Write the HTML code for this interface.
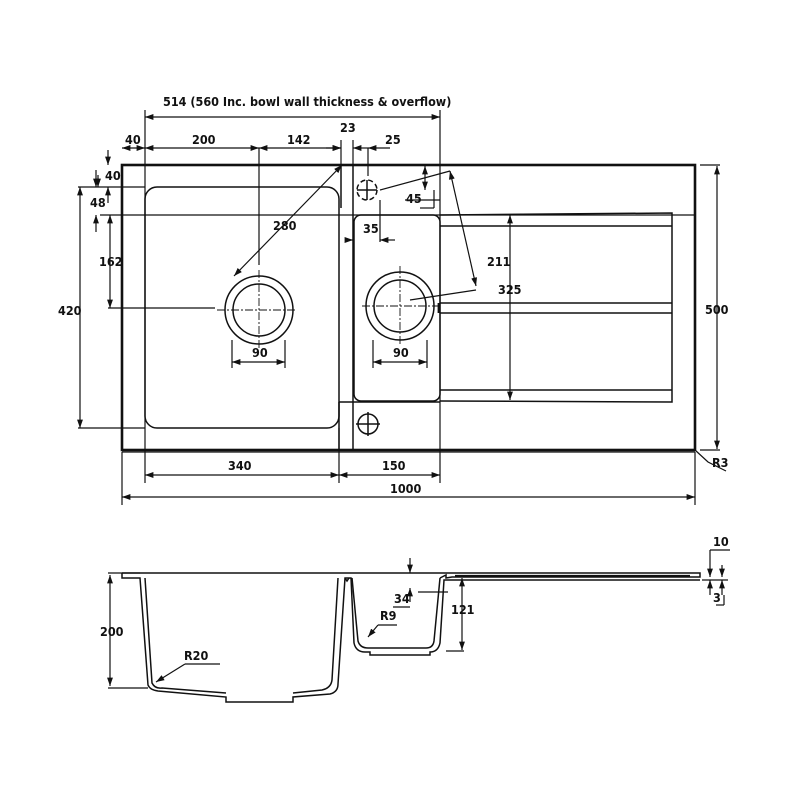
<!DOCTYPE html>
<html><head><meta charset="utf-8">
<style>
html,body{margin:0;padding:0;background:#fff;}
svg{display:block}
text{font-family:"DejaVu Sans Condensed","Liberation Sans",sans-serif;font-weight:bold;font-size:12.5px;fill:#111}
</style></head>
<body>
<svg width="800" height="800" viewBox="0 0 800 800" xmlns="http://www.w3.org/2000/svg">
<defs>
<marker id="a" viewBox="0 0 10 10" refX="10" refY="5" markerWidth="7" markerHeight="7" orient="auto-start-reverse"><path d="M0,1.5 L10,5 L0,8.5 z" fill="#111"/></marker>
</defs>
<g stroke="#111" fill="none" stroke-width="1.5">
<rect x="122" y="165" width="573" height="285" stroke-width="2.6"/>
<line x1="122" y1="452" x2="695" y2="452" stroke-width="1.2"/>
<rect x="145" y="187" width="194" height="241" rx="12"/>
<line x1="341" y1="165" x2="341" y2="208"/>
<line x1="353" y1="165" x2="353" y2="450"/>
<line x1="339" y1="402" x2="339" y2="450"/>
<line x1="339" y1="402" x2="440" y2="402"/>
<rect x="354" y="215" width="86" height="186" rx="7"/>
<line x1="100" y1="215" x2="695" y2="215" stroke-width="1.2"/>
<path d="M440,215 L672,213 L672,402 L440,401"/>
<line x1="440" y1="226" x2="672" y2="226"/>
<line x1="440" y1="303" x2="672" y2="303"/>
<line x1="440" y1="313" x2="672" y2="313"/>
<line x1="440" y1="390" x2="672" y2="390"/>
<line x1="439" y1="303" x2="439" y2="313" stroke-width="2.8"/>
<circle cx="259" cy="310" r="34"/><circle cx="259" cy="310" r="26"/>
<circle cx="400" cy="306" r="34"/><circle cx="400" cy="306" r="26"/>
<g stroke-width="0.9" stroke-dasharray="8,2,2,2">
<line x1="217" y1="310" x2="296" y2="310"/><line x1="259" y1="270" x2="259" y2="348"/>
<line x1="362" y1="306" x2="440" y2="306"/><line x1="400" y1="266" x2="400" y2="344"/>
</g>
<circle cx="367" cy="190" r="10" stroke-dasharray="5,3"/>
<line x1="357" y1="190" x2="377" y2="190"/><line x1="367" y1="180" x2="367" y2="200"/>
<circle cx="368" cy="424" r="10"/>
<line x1="356" y1="424" x2="380" y2="424"/><line x1="368" y1="412" x2="368" y2="436"/>
<g stroke-width="1.2">
<line x1="145" y1="110" x2="145" y2="483"/>
<line x1="440" y1="110" x2="440" y2="483"/>
<line x1="339" y1="428" x2="339" y2="483"/>
<line x1="122" y1="452" x2="122" y2="505"/>
<line x1="695" y1="452" x2="695" y2="505"/>
<line x1="259" y1="148" x2="259" y2="265"/>
<line x1="341" y1="140" x2="341" y2="165"/>
<line x1="353" y1="140" x2="353" y2="165"/>
<line x1="368" y1="148" x2="368" y2="176"/>
<line x1="78" y1="187" x2="145" y2="187"/>
<line x1="78" y1="428" x2="145" y2="428"/>
<line x1="108" y1="308" x2="215" y2="308"/>
<line x1="700" y1="165" x2="720" y2="165"/>
<line x1="700" y1="450" x2="720" y2="450"/>
</g>
<g stroke-width="1.2" marker-start="url(#a)" marker-end="url(#a)">
<line x1="145" y1="117" x2="440" y2="117"/>
<line x1="122" y1="148" x2="145" y2="148"/>
<line x1="145" y1="148" x2="259" y2="148"/>
<line x1="259" y1="148" x2="341" y2="148"/>
<line x1="145" y1="475" x2="339" y2="475"/>
<line x1="339" y1="475" x2="440" y2="475"/>
<line x1="122" y1="497" x2="695" y2="497"/>
<line x1="80" y1="187" x2="80" y2="428"/>
<line x1="110" y1="215" x2="110" y2="308"/>
<line x1="717" y1="166" x2="717" y2="449"/>
<line x1="510" y1="215" x2="510" y2="400"/>
<line x1="425" y1="166" x2="425" y2="190"/>
<line x1="342" y1="165" x2="234" y2="276"/>
<line x1="450" y1="171" x2="476" y2="286"/>
</g>
<g stroke-width="1.2" marker-end="url(#a)">
<line x1="326" y1="148" x2="341" y2="148"/><line x1="368" y1="148" x2="353" y2="148"/>
<line x1="390" y1="148" x2="368" y2="148"/>
<line x1="108" y1="150" x2="108" y2="165"/><line x1="98" y1="175" x2="98" y2="187"/>
<line x1="96" y1="170" x2="96" y2="187"/><line x1="96" y1="232" x2="96" y2="215"/>
<line x1="108" y1="203" x2="108" y2="187"/>
<line x1="345" y1="240" x2="353" y2="240"/><line x1="395" y1="240" x2="380" y2="240"/>
</g>
<g stroke-width="1.2">
<line x1="380" y1="190" x2="450" y2="171"/>
<line x1="410" y1="300" x2="476" y2="290"/>
<line x1="380" y1="200" x2="380" y2="242"/>
<line x1="405" y1="200" x2="440" y2="200"/>
<line x1="420" y1="208" x2="434" y2="208"/>
<line x1="434" y1="190" x2="434" y2="208"/>
<line x1="232" y1="340" x2="232" y2="368"/>
<line x1="285" y1="340" x2="285" y2="368"/>
<line x1="232" y1="362" x2="285" y2="362" marker-start="url(#a)" marker-end="url(#a)"/>
<line x1="373" y1="340" x2="373" y2="368"/>
<line x1="427" y1="340" x2="427" y2="368"/>
<line x1="373" y1="362" x2="427" y2="362" marker-start="url(#a)" marker-end="url(#a)"/>
<path d="M695,450 L708,462 L726,471"/>
</g>
</g>
<text x="163" y="106">514 (560 Inc. bowl wall thickness &amp; overflow)</text>
<text x="125" y="144">40</text><text x="192" y="144">200</text><text x="287" y="144">142</text>
<text x="340" y="132">23</text><text x="385" y="144">25</text>
<text x="105" y="180">40</text><text x="90" y="207">48</text>
<text x="99" y="266">162</text><text x="58" y="315">420</text>
<text x="273" y="230">280</text><text x="363" y="233">35</text><text x="406" y="203">45</text>
<text x="487" y="266">211</text><text x="498" y="294">325</text>
<text x="705" y="314">500</text>
<text x="252" y="357">90</text><text x="393" y="357">90</text>
<text x="228" y="470">340</text><text x="382" y="470">150</text>
<text x="390" y="493">1000</text><text x="712" y="467">R3</text>
<g stroke="#111" fill="none" stroke-width="1.5">
<path d="M122,573 L700,573 L700,577 L452,577 L446,578 L446,575 L440,578"/>
<path d="M122,573 L122,578 L140,578 L148,685 Q150,690 158,691 L226,697 L226,702 L293,702 L293,697 L330,694 Q338,692 338,684 L345,578 L351,578 L354,643 Q356,652 365,652 L370,652 L370,655 L430,655 L430,652 Q438,652 440,643 L444,580 L700,580"/>
<path d="M145,578 L152,683 Q155,689 162,688 L226,693 M293,693 L322,690 Q331,688 332,680 L338,578"/>
<path d="M345,578 L347,581 L349,578 M352,578 L358,641 Q360,648 368,648 L426,648 Q433,648 434,641 L440,578"/>
<line x1="455" y1="576" x2="690" y2="576" stroke-width="2.2"/>
</g>
<g stroke="#111" stroke-width="1.2" fill="none">
<line x1="108" y1="573" x2="140" y2="573"/><line x1="108" y1="688" x2="148" y2="688"/>
<line x1="110" y1="575" x2="110" y2="686" marker-start="url(#a)" marker-end="url(#a)"/>
<line x1="410" y1="558" x2="410" y2="573" marker-end="url(#a)"/>
<line x1="410" y1="602" x2="410" y2="588" marker-end="url(#a)"/>
<line x1="393" y1="607" x2="410" y2="607"/>
<line x1="418" y1="592" x2="448" y2="592"/>
<line x1="446" y1="651" x2="464" y2="651"/>
<line x1="462" y1="578" x2="462" y2="650" marker-start="url(#a)" marker-end="url(#a)"/>
<line x1="185" y1="664" x2="220" y2="664"/>
<line x1="185" y1="664" x2="156" y2="682" marker-end="url(#a)"/>
<line x1="378" y1="625" x2="397" y2="625"/>
<line x1="378" y1="625" x2="368" y2="637" marker-end="url(#a)"/>
<line x1="710" y1="550" x2="730" y2="550"/>
<line x1="710" y1="550" x2="710" y2="577" marker-end="url(#a)"/>
<line x1="710" y1="595" x2="710" y2="580" marker-end="url(#a)"/>
<line x1="722" y1="565" x2="722" y2="577" marker-end="url(#a)"/>
<line x1="722" y1="595" x2="722" y2="580" marker-end="url(#a)"/>
<line x1="702" y1="580" x2="728" y2="580"/>
<line x1="716" y1="605" x2="724" y2="605"/><line x1="724" y1="595" x2="724" y2="605"/>
</g>
<text x="100" y="636">200</text><text x="184" y="660">R20</text><text x="380" y="620">R9</text>
<text x="394" y="603">34</text><text x="451" y="614">121</text>
<text x="713" y="546">10</text><text x="713" y="602">3</text>
</svg>
</body></html>
